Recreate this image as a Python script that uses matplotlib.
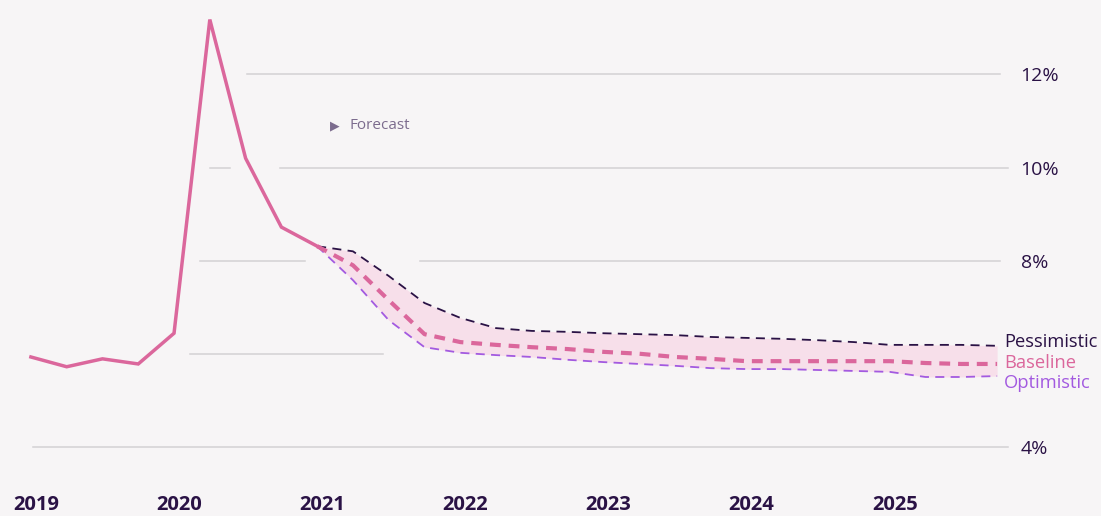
import matplotlib.pyplot as plt
import numpy as np

# quarterly rate (%), 2019 Q1 .. 2021 Q1 actual, then scenarios to 2025 Q4
years = ["2019", "2020", "2021", "2022", "2023", "2024", "2025"]
actual = [5.93, 5.72, 5.89, 5.78, 6.44, 13.18, 10.20, 8.72, 8.31]
pessimistic = [8.31, 8.20, 7.67, 7.09, 6.77, 6.55, 6.49, 6.47, 6.44, 6.42,
               6.40, 6.36, 6.34, 6.32, 6.29, 6.25, 6.19, 6.19, 6.19, 6.17]
baseline = [8.31, 7.90, 7.15, 6.42, 6.25, 6.19, 6.14, 6.10, 6.04, 6.00,
            5.93, 5.89, 5.84, 5.84, 5.84, 5.84, 5.84, 5.80, 5.78, 5.78]
optimistic = [8.31, 7.58, 6.72, 6.14, 6.02, 5.97, 5.93, 5.87, 5.82, 5.78,
              5.74, 5.69, 5.67, 5.67, 5.65, 5.63, 5.61, 5.50, 5.50, 5.52]
yticks = [4, 8, 10, 12]

BG = "#f7f5f6"
PINK = "#db679c"
DARK = "#2a1245"
PURPLE = "#a35ae0"
GRID = "#d3d1d4"
FONT = ["Open Sans", "DejaVu Sans"]

plt.rcParams["font.family"] = FONT

fig = plt.figure(figsize=(11.01, 5.16), dpi=100, facecolor=BG)
ax = fig.add_axes([13 / 1101, 18 / 516, 1002 / 1101, 498 / 516], facecolor=BG)

xa = np.arange(len(actual))
xf = np.arange(len(actual) - 1, len(actual) - 1 + len(pessimistic))

# broken gridlines as in the original
grid_segments = {12: [(0.234, 0.985)],
                 10: [(0.197, 0.217), (0.266, 0.993)],
                 8: [(0.187, 0.291), (0.406, 0.985)],
                 6: [(0.177, 0.369)],
                 4: [(0.020, 0.993)]}
for yv, segs in grid_segments.items():
    for a, b in segs:
        ax.axhline(yv, xmin=a, xmax=b, color=GRID, lw=1.1, zorder=0)

ax.fill_between(xf, optimistic, pessimistic, color="#f7dfea", lw=0, zorder=1)
ax.plot(xa, actual, color=PINK, lw=2.5, solid_joinstyle="miter", zorder=4)
ax.plot(xf, pessimistic, color=DARK, lw=1.3, dashes=(5, 3.5), zorder=3)
ax.plot(xf, optimistic, color=PURPLE, lw=1.3, dashes=(5, 3.5), zorder=3)
ax.plot(xf, baseline, color=PINK, lw=3.0, dashes=(2.6, 1.9), zorder=3)

for vals, name, col, dy in [(pessimistic, "Pessimistic", DARK, 3),
                            (baseline, "Baseline", PINK, 0.5),
                            (optimistic, "Optimistic", PURPLE, -5)]:
    ax.annotate(name, xy=(xf[-1], vals[-1]), xytext=(5, dy), textcoords="offset points",
                ha="left", va="center", fontsize=13.2, color=col)

ax.annotate("▶", xy=(xf[0], 10.9), xytext=(9, 0), textcoords="offset points",
            ha="left", va="center", fontsize=9, color="#7c6c8e", family="DejaVu Sans")
ax.annotate("Forecast", xy=(xf[0], 10.9), xytext=(23, 0), textcoords="offset points",
            ha="left", va="center", fontsize=11, color="#7c6c8e")

ax.set_xlim(-0.5, xf[-1] + 0.5)
ax.set_ylim(2.9, 13.6)
ax.set_xticks(np.arange(len(years)) * 4 - 0.5)
ax.set_xticklabels(years, ha="left", fontsize=14.5, fontweight="bold", color=DARK)
ax.yaxis.tick_right()
ax.set_yticks(yticks)
ax.set_yticklabels([f"{v}%" for v in yticks], fontsize=14, color=DARK)
ax.tick_params(length=0)
ax.tick_params(axis="y", pad=4)
ax.tick_params(axis="x", pad=-2)
for s in ax.spines.values():
    s.set_visible(False)

fig.savefig("out.png", dpi=100, facecolor=BG)
